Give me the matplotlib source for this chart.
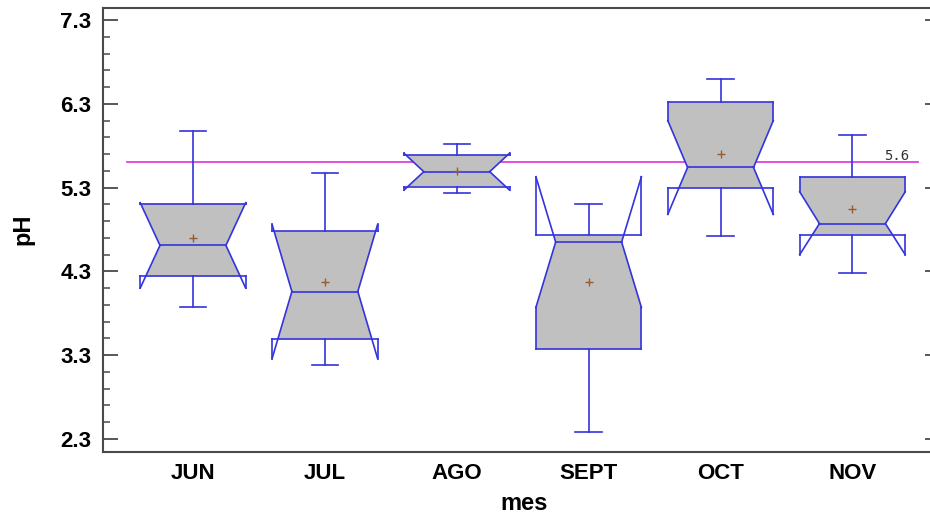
import matplotlib
matplotlib.use("Agg")
import matplotlib.pyplot as plt
from matplotlib.patches import Polygon
from matplotlib.ticker import FixedLocator
import numpy as np

# pH by month: notched box-and-whisker summaries
months = ["JUN", "JUL", "AGO", "SEPT", "OCT", "NOV"]
whisker_low = [3.87, 3.18, 5.24, 2.38, 4.72, 4.28]
q1 = [4.24, 3.49, 5.31, 3.37, 5.30, 4.74]
median = [4.61, 4.06, 5.49, 4.65, 5.54, 4.87]
q3 = [5.11, 4.78, 5.69, 4.73, 6.32, 5.43]
whisker_high = [5.98, 5.48, 5.82, 5.10, 6.59, 5.93]
mean = [4.70, 4.17, 5.50, 4.17, 5.70, 5.04]
notch_low = [4.10, 3.26, 5.27, 3.87, 4.98, 4.50]
notch_high = [5.12, 4.86, 5.71, 5.43, 6.10, 5.25]
ref_value = 5.6
ref_label = "5.6"
y_ticks = [2.3, 3.3, 4.3, 5.3, 6.3, 7.3]

EDGE = "#3434dc"
FILL = "#c0c0c0"
MEAN_C = "#9a5a30"
REF_C = "#e040d8"
AXIS_C = "#4a4a4a"

fig = plt.figure(figsize=(9.3, 5.17), dpi=100)
ax = fig.add_axes([103 / 930, 65 / 517, 827 / 930, 444 / 517])

w_out = 0.40   # half-width of box
w_in = 0.25    # half-width at the median notch
w_cap = 0.10   # half-width of whisker caps
lw = 1.2


def half_width(y, med, lo, hi):
    n = (hi - lo) / 2.0
    frac = min(1.0, abs(y - med) / n) if n > 0 else 1.0
    return w_in + (w_out - w_in) * frac


for i in range(len(months)):
    c = i + 1
    lo_b, hi_b = q1[i], q3[i]
    med, nlo, nhi = median[i], notch_low[i], notch_high[i]

    # filled body, clipped to the interquartile range
    ys = sorted({lo_b, hi_b, med, min(max(nlo, lo_b), hi_b), min(max(nhi, lo_b), hi_b)})
    right = [(c + half_width(y, med, nlo, nhi), y) for y in ys]
    left = [(c - half_width(y, med, nlo, nhi), y) for y in reversed(ys)]
    ax.add_patch(Polygon(right + left, closed=True, facecolor=FILL,
                         edgecolor="none", zorder=2))

    # outline
    ax.plot([c - w_out, c + w_out], [hi_b, hi_b], color=EDGE, lw=lw, zorder=3)
    ax.plot([c - w_out, c + w_out], [lo_b, lo_b], color=EDGE, lw=lw, zorder=3)
    ax.plot([c - w_in, c + w_in], [med, med], color=EDGE, lw=lw, zorder=3)
    for s in (-1, 1):
        ax.plot([c + s * w_in, c + s * w_out], [med, nhi], color=EDGE, lw=lw, zorder=3)
        ax.plot([c + s * w_in, c + s * w_out], [med, nlo], color=EDGE, lw=lw, zorder=3)
        ax.plot([c + s * w_out, c + s * w_out], [nhi, hi_b], color=EDGE, lw=lw, zorder=3)
        ax.plot([c + s * w_out, c + s * w_out], [nlo, lo_b], color=EDGE, lw=lw, zorder=3)

    # whiskers
    ax.plot([c, c], [hi_b, whisker_high[i]], color=EDGE, lw=lw, zorder=3)
    ax.plot([c, c], [lo_b, whisker_low[i]], color=EDGE, lw=lw, zorder=3)
    ax.plot([c - w_cap, c + w_cap], [whisker_high[i]] * 2, color=EDGE, lw=lw, zorder=3)
    ax.plot([c - w_cap, c + w_cap], [whisker_low[i]] * 2, color=EDGE, lw=lw, zorder=3)

    # mean
    ax.plot([c], [mean[i]], marker="+", ms=6, mew=1.0, color=MEAN_C, zorder=4)

# reference line
ax.plot([0.5, len(months) + 0.5], [ref_value, ref_value], color=REF_C, lw=1.3, zorder=1)
ax.text(len(months) + 0.337, ref_value + 0.075, ref_label, ha="center", va="center",
        fontsize=10, family="DejaVu Sans Mono", color="#333333")

ax.set_xlim(0.318, len(months) + 0.588)
ax.set_ylim(2.145, 7.443)

ax.xaxis.set_major_locator(FixedLocator(range(1, len(months) + 1)))
ax.set_xticklabels(months, fontsize=16, fontweight="bold", family="Liberation Sans")
ax.tick_params(axis="x", length=0, pad=8)

ax.yaxis.set_major_locator(FixedLocator(y_ticks))
ax.yaxis.set_minor_locator(FixedLocator(np.round(np.arange(2.3, 7.31, 0.2), 2)))
ax.set_yticklabels([f"{v:.1f}" for v in y_ticks], fontsize=16, fontweight="bold",
                   family="Liberation Sans")
ax.tick_params(axis="y", which="major", direction="in", length=10.8, width=1.3,
               color=AXIS_C, pad=8.5)
ax.tick_params(axis="y", which="minor", direction="in", length=5, width=1.1,
               color=AXIS_C, right=False)

for sp in ax.spines.values():
    sp.set_color(AXIS_C)
    sp.set_linewidth(1.5)
ax.spines["right"].set_visible(False)

# short tick stubs along the right edge of the frame
ax2 = ax.twinx()
ax2.set_ylim(ax.get_ylim())
ax2.yaxis.set_major_locator(FixedLocator(y_ticks))
ax2.tick_params(axis="y", which="major", direction="in", length=3.6, width=1.3,
                color=AXIS_C, labelright=False)
for sp in ax2.spines.values():
    sp.set_visible(False)

fig.text(23 / 930, 1 - 229 / 517, "pH", rotation=90, ha="center", va="center",
         fontsize=17, fontweight="bold", family="Liberation Sans")
fig.text(524 / 930, 1 - 503 / 517, "mes", ha="center", va="center",
         fontsize=17, fontweight="bold", family="Liberation Sans")

fig.savefig("out.png", dpi=100, facecolor="white")
